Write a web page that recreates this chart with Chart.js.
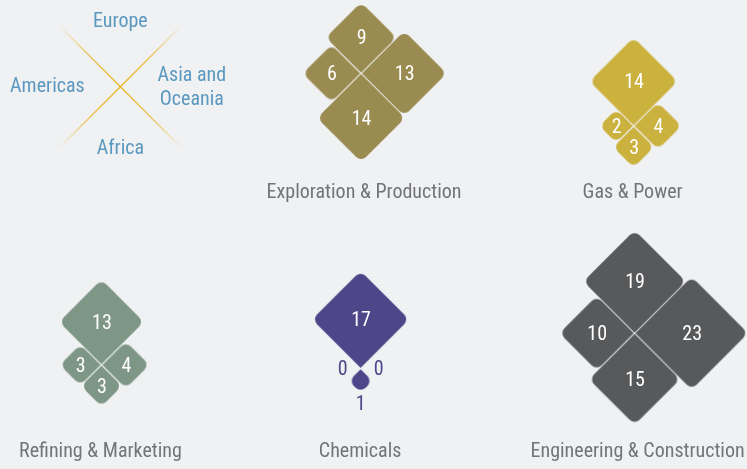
<!DOCTYPE html>
<html>
<head>
<meta charset="utf-8">
<script src="https://cdn.jsdelivr.net/npm/chart.js@4.4.1/dist/chart.umd.min.js"></script>
<style>
  html, body { margin: 0; padding: 0; background: #f0f1f3; }
  #wrap { width: 747px; height: 469px; }
</style>
</head>
<body>
<div id="wrap"><canvas id="regions-chart" width="747" height="469"></canvas></div>
<script>
// regions, in the order every sector array uses
const regions = ['Europe', 'Americas', 'Asia and Oceania', 'Africa'];
const sectors = ['Exploration & Production', 'Gas & Power', 'Refining & Marketing', 'Chemicals', 'Engineering & Construction'];

const explorationProduction = [9, 6, 13, 14];
const gasPower = [14, 2, 4, 3];
const refiningMarketing = [13, 3, 4, 3];
const chemicals = [17, 0, 0, 1];
const engineeringConstruction = [19, 10, 23, 15];
const sectorValues = [explorationProduction, gasPower, refiningMarketing, chemicals, engineeringConstruction];

const sectorColors = ['#9a8b51', '#cbb13d', '#7e9685', '#4e4689', '#58595b'];

// where each little chart sits (pixels == data units, see scales)
const sectorCenters = [[361, 72], [635, 125], [100, 366], [360.5, 369.5], [636, 334]];
const titleRows = [191, 191, 452, 452, 452];
const titleCenters = [364, 634, 99, 360, 639];
const keyCenter = [119, 85.5];

// direction of each region from the centre: up, left, right, down
const regionDirs = [[0, -1], [-1, 0], [1, 0], [0, 1]];
// which corner of the diamond points back at the centre (top, right, bottom, left)
const innerCorner = [2, 1, 3, 0];

const DIAG = 23.5;    // diagonal of the diamond per sqrt(value)
const GAP = 1;
const CORNER = 7;
const FONT = "'Liberation Sans Narrow', 'Roboto Condensed', Roboto, sans-serif";

function diamondCanvas(value, region, color) {
  const d = DIAG * Math.sqrt(value);
  const h = d / 2;
  const size = Math.ceil(d) + 4;
  const c = document.createElement('canvas');
  c.width = c.height = size;
  const g = c.getContext('2d');
  const m = size / 2;
  const pts = [[m, m - h], [m + h, m], [m, m + h], [m - h, m]];
  const start = innerCorner[region];
  const r = Math.min(CORNER, h * 0.7);
  g.beginPath();
  g.moveTo(pts[start][0], pts[start][1]);
  for (let k = 1; k <= 3; k++) {
    const p = pts[(start + k) % 4];
    const n = pts[(start + k + 1) % 4];
    g.arcTo(p[0], p[1], n[0], n[1], r);
  }
  g.closePath();
  g.fillStyle = color;
  g.fill();
  return c;
}

const datasets = sectors.map((name, s) => {
  const [cx, cy] = sectorCenters[s];
  const values = sectorValues[s];
  const data = values.map((v, r) => {
    const off = v > 0 ? GAP + DIAG * Math.sqrt(v) / 2 : 0;
    return { x: cx + regionDirs[r][0] * off, y: cy + regionDirs[r][1] * off, v: v, region: r };
  });
  return {
    label: name,
    data: data,
    pointStyle: values.map((v, r) => v > 0 ? diamondCanvas(v, r, sectorColors[s]) : 'circle'),
    pointRadius: values.map(v => v > 0 ? 1 : 0),
    pointHoverRadius: values.map(v => v > 0 ? 1 : 0),
    backgroundColor: sectorColors[s],
    clip: false
  };
});

// numbers on the diamonds; small ones get their number outside
const valueLabels = {
  id: 'valueLabels',
  afterDatasetsDraw(chart) {
    const ctx = chart.ctx;
    const xs = chart.scales.x, ys = chart.scales.y;
    ctx.save();
    ctx.font = '20px ' + FONT;
    ctx.textAlign = 'center';
    ctx.textBaseline = 'middle';
    chart.data.datasets.forEach((ds, i) => {
      const meta = chart.getDatasetMeta(i);
      const cx = xs.getPixelForValue(sectorCenters[i][0]);
      const cy = ys.getPixelForValue(sectorCenters[i][1]);
      meta.data.forEach((pt, j) => {
        const raw = ds.data[j];
        const dir = regionDirs[raw.region];
        if (raw.v >= 2) {
          ctx.fillStyle = '#ffffff';
          ctx.fillText(raw.v, pt.x + 0.5, pt.y + 2);
        } else {
          const off = raw.v > 0 ? GAP + DIAG * Math.sqrt(raw.v) + 10 : 18;
          ctx.fillStyle = sectorColors[i];
          ctx.fillText(raw.v, cx + dir[0] * off, cy + dir[1] * off + 2);
        }
      });
    });
    ctx.restore();
  }
};

// sector names and the region key in the corner
const titlesAndKey = {
  id: 'titlesAndKey',
  beforeDatasetsDraw(chart) {
    const ctx = chart.ctx;
    const xs = chart.scales.x, ys = chart.scales.y;
    ctx.save();
    ctx.font = '20px ' + FONT;
    ctx.textAlign = 'center';
    ctx.textBaseline = 'middle';
    ctx.fillStyle = '#737477';
    sectors.forEach((name, s) => {
      ctx.fillText(name, xs.getPixelForValue(titleCenters[s]), ys.getPixelForValue(titleRows[s]) + 2);
    });

    const kx = xs.getPixelForValue(keyCenter[0]);
    const ky = ys.getPixelForValue(keyCenter[1]);
    const arm = 62;
    ctx.lineWidth = 1.4;
    [[-1, -1, 1, 1], [1, -1, -1, 1]].forEach(([ax, ay, bx, by]) => {
      const x0 = kx + ax * arm, y0 = ky + ay * arm, x1 = kx + bx * arm, y1 = ky + by * arm;
      const grad = ctx.createLinearGradient(x0, y0, x1, y1);
      grad.addColorStop(0, 'rgba(232, 182, 40, 0)');
      grad.addColorStop(0.25, 'rgba(232, 182, 40, 0.75)');
      grad.addColorStop(0.5, 'rgba(232, 182, 40, 1)');
      grad.addColorStop(0.75, 'rgba(232, 182, 40, 0.75)');
      grad.addColorStop(1, 'rgba(232, 182, 40, 0)');
      ctx.strokeStyle = grad;
      ctx.beginPath();
      ctx.moveTo(x0, y0);
      ctx.lineTo(x1, y1);
      ctx.stroke();
    });

    ctx.fillStyle = '#5b98bf';
    ctx.fillText(regions[0], kx, ky - 65);
    ctx.fillText(regions[1], kx - 73, ky);
    ctx.fillText('Asia and', kx + 71.5, ky - 10.5);
    ctx.fillText('Oceania', kx + 71.5, ky + 13);
    ctx.fillText(regions[3], kx, ky + 62);
    ctx.restore();
  }
};

new Chart(document.getElementById('regions-chart'), {
  type: 'scatter',
  data: { datasets: datasets },
  options: {
    responsive: false,
    animation: false,
    layout: { padding: 0 },
    scales: {
      x: { type: 'linear', min: 0, max: 747, display: false },
      y: { type: 'linear', min: 0, max: 469, reverse: true, display: false }
    },
    plugins: {
      legend: { display: false },
      tooltip: { enabled: false }
    }
  },
  plugins: [titlesAndKey, valueLabels]
});
</script>
</body>
</html>
